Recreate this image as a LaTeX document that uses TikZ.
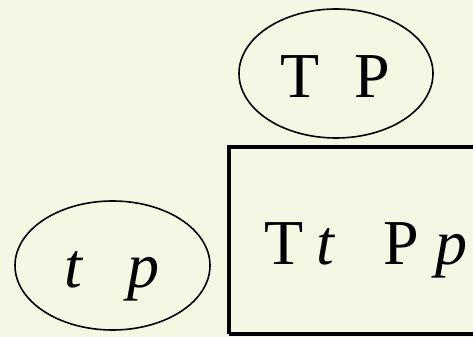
\documentclass[tikz,border=0pt]{standalone}
\usepackage{fontspec}
\setmainfont{Liberation Serif}
\usetikzlibrary{shapes.geometric}
\definecolor{bg}{RGB}{245,247,229}
\begin{document}
\begin{tikzpicture}[x=1pt,y=1pt,
  oval/.style={draw,line width=1.6pt},
  lbl/.style={font=\fontsize{64}{64}\selectfont, inner sep=0pt, anchor=base},
  boxline/.style={draw,line width=4.2pt}]
\fill[bg] (0,0) rectangle (473,337);
\useasboundingbox (0,0) rectangle (473,337);
% top ellipse
\draw[oval] (336,263.5) ellipse [x radius=97, y radius=64.5];
\node[lbl] (tp) at (335,239) {T\hspace{0.55em}P};
% bottom-left ellipse
\draw[oval] (112.5,71.5) ellipse [x radius=97.5, y radius=64.5];
\node[lbl] (lp) at (112,49) {\textit{t}\hspace{0.68em}\textit{p}};
% box
\draw[boxline] (229,3) -- (229,190) -- (480,190);
\draw[boxline] (229,3) -- (480,3);
\node[lbl, anchor=base west] (ttpp) at (264,72) {T\hspace{0.2em}\textit{t}\hspace{0.75em}P\hspace{0.26em}\textit{p}};
\end{tikzpicture}
\end{document}
